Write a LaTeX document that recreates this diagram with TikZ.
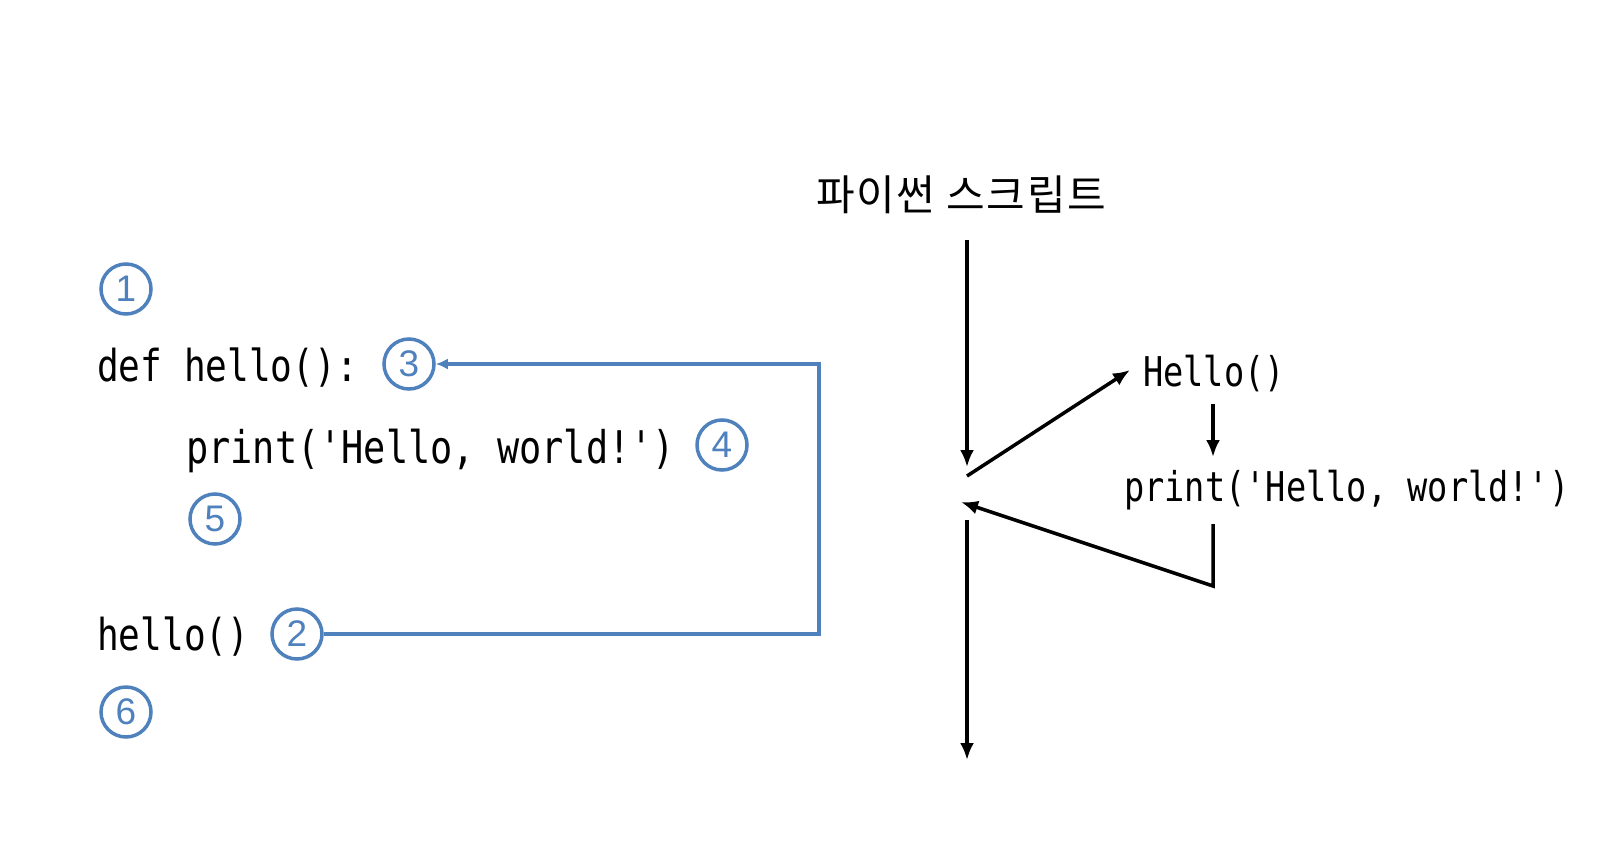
\documentclass[tikz,border=0pt]{standalone}
\usepackage{fontspec}
\usetikzlibrary{arrows.meta}
\newfontfamily\codefont[FakeStretch=0.82]{DejaVu Sans Mono}
\newfontfamily\krfont[LetterSpace=4]{Noto Sans CJK KR}
\newfontfamily\numfont{Liberation Sans}
\definecolor{cblue}{RGB}{79,129,189}
\tikzset{
  codetext/.style={anchor=base west, inner sep=0pt, font=\codefont\fontsize{44}{50}\selectfont},
  codewide/.style={anchor=base west, inner sep=0pt, font=\codefont\fontsize{45}{50}\selectfont},
  codesmall/.style={anchor=base west, inner sep=0pt, font=\codefont\fontsize{41}{46}\selectfont},
  numcircle/.style={circle, draw=cblue, line width=3.5pt, text=cblue, minimum size=50pt, inner sep=0pt, font=\numfont\fontsize{37}{40}\selectfont},
  blueline/.style={draw=cblue, line width=3.5pt},
  blkarrow/.style={draw=black, line width=3.5pt, -{Latex[length=17pt,width=14pt]}},
}
\begin{document}
\begin{tikzpicture}[x=1pt,y=-1pt]
\path[fill=white] (0,0) rectangle (1602,856);
% left side
\node[numcircle] (c1) at (126,289) {1};
\node[codetext] (def) at (97,381) {def hello():};
\node[numcircle] (c3) at (409,364) {3};
\node[codewide] (pr) at (186,463) {print('Hello, world!')};
\node[numcircle] (c4) at (722,445) {4};
\node[numcircle] (c5) at (215,519) {5};
\node[codetext] (call) at (97,650) {hello()};
\node[numcircle] (c2) at (297,634) {2};
\node[numcircle] (c6) at (126,712) {6};
\coordinate (bR) at (819,634);
\coordinate (tR) at (819,364);
\draw[blueline, -{Latex[length=12pt,width=11pt]}] (c2.east) -- (bR) -- (tR) -- (c3.east);
% right side
\node[anchor=base, inner sep=0pt, font=\krfont\fontsize{42}{48}\selectfont] (title) at (961,210) {파이썬 스크립트};
\coordinate (a1s) at (967,240);
\coordinate (a1e) at (967,467);
\coordinate (dgs) at (967,476);
\coordinate (dge) at (1130,370);
\node[codesmall] (h2) at (1143,386) {Hello()};
\coordinate (a2s) at (1213,404);
\coordinate (a2e) at (1213,457);
\node[codesmall] (p2) at (1124,501) {print('Hello, world!')};
\coordinate (r1) at (1213,524);
\coordinate (r2) at (1213,586);
\coordinate (r3) at (961,502);
\coordinate (a3s) at (967,520);
\coordinate (a3e) at (967,760);
\draw[blkarrow] (a1s) -- (a1e);
\draw[blkarrow] (dgs) -- (dge);
\draw[blkarrow] (a2s) -- (a2e);
\draw[blkarrow] (r1) -- (r2) -- (r3);
\draw[blkarrow] (a3s) -- (a3e);
\end{tikzpicture}
\end{document}
